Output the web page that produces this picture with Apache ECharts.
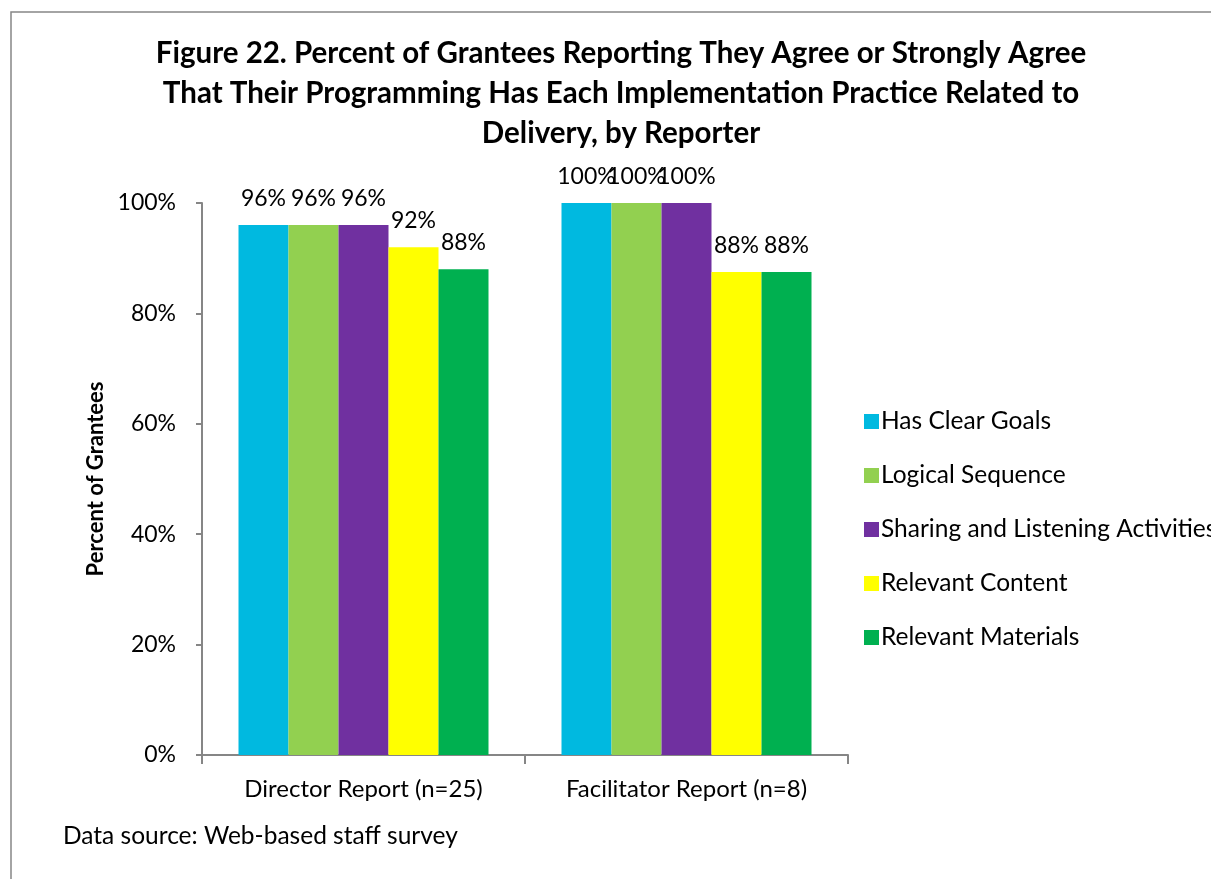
<!DOCTYPE html>
<html>
<head>
<meta charset="utf-8">
<script src="https://cdn.jsdelivr.net/npm/echarts@6/dist/echarts.min.js"></script>
<style>
  html, body { margin: 0; padding: 0; background: #fff; }
  #main { width: 1211px; height: 879px; }
</style>
</head>
<body>
<div id="main"></div>
<script>
// 数据
var categories = ['Director Report (n=25)', 'Facilitator Report (n=8)'];
var seriesNames = ['Has Clear Goals', 'Logical Sequence', 'Sharing and Listening Activities', 'Relevant Content', 'Relevant Materials'];
var clearGoals = [96, 100];
var logicalSeq = [96, 100];
var sharing = [96, 100];
var relContent = [92, 87.5];
var relMaterials = [88, 87.5];
var colors = ['#00B9E0', '#92D050', '#7030A0', '#FFFF00', '#00B050'];
var yTicks = [0, 20, 40, 60, 80, 100];

var font = 'Lato, "Open Sans", sans-serif';
var myChart = echarts.init(document.getElementById('main'));

var values = [clearGoals, logicalSeq, sharing, relContent, relMaterials];
var series = [];
for (var i = 0; i < seriesNames.length; i++) {
    series.push({
        name: seriesNames[i],
        type: 'bar',
        data: values[i],
        barGap: 0,
        barCategoryGap: '22.6%',
        itemStyle: { color: colors[i] },
        label: {
            show: true,
            position: 'top',
            distance: 15,
            color: '#000',
            fontFamily: font,
            fontSize: 23,
            formatter: function (p) { return Math.round(p.value) + '%'; }
        }
    });
}

var option = {
    animation: false,
    textStyle: { fontFamily: font },
    title: {
        text: 'Figure 22. Percent of Grantees Reporting They Agree or Strongly Agree\nThat Their Programming Has Each Implementation Practice Related to\nDelivery, by Reporter',
        left: 616,
        top: 28,
        textAlign: 'center',
        textStyle: {
            fontFamily: font,
            fontSize: 29.5,
            fontWeight: 'bold',
            color: '#000',
            lineHeight: 40
        }
    },
    legend: {
        orient: 'vertical',
        left: 859,
        top: 404,
        itemWidth: 15,
        itemHeight: 15,
        itemGap: 29,
        icon: 'rect',
        textStyle: { fontFamily: font, fontSize: 24.5, color: '#000', lineHeight: 24, padding: [0, 0, 0, -3] },
        data: seriesNames
    },
    grid: {
        left: 202,
        right: 363,
        top: 203,
        bottom: 124
    },
    xAxis: {
        type: 'category',
        data: categories,
        axisLine: { lineStyle: { color: '#868686', width: 2 } },
        axisTick: { show: true, length: 9, lineStyle: { color: '#868686', width: 2 } },
        axisLabel: { fontFamily: font, fontSize: 24, color: '#000', margin: 22 }
    },
    yAxis: {
        type: 'value',
        min: 0,
        max: 100,
        interval: 20,
        name: 'Percent of Grantees',
        nameLocation: 'middle',
        nameGap: 95,
        nameTextStyle: { fontFamily: font, fontSize: 22, fontWeight: 'bold', color: '#000' },
        axisLine: { show: true, lineStyle: { color: '#868686', width: 2 } },
        axisTick: { show: true, length: 6, lineStyle: { color: '#868686', width: 2 } },
        splitLine: { show: false },
        axisLabel: {
            fontFamily: font, fontSize: 23, color: '#000', margin: 26,
            formatter: function (v) { return yTicks.indexOf(v) >= 0 ? v + '%' : ''; }
        }
    },
    graphic: [
        {
            type: 'rect',
            shape: { x: 11, y: 12, width: 1230, height: 900 },
            style: { fill: 'none', stroke: '#878787', lineWidth: 1.5 },
            silent: true
        },
        {
            type: 'text',
            left: 63,
            top: 824,
            style: { text: 'Data source: Web-based staff survey', fontFamily: font, fontSize: 24.5, fill: '#000' }
        }
    ],
    series: series
};

myChart.setOption(option);
</script>
</body>
</html>
